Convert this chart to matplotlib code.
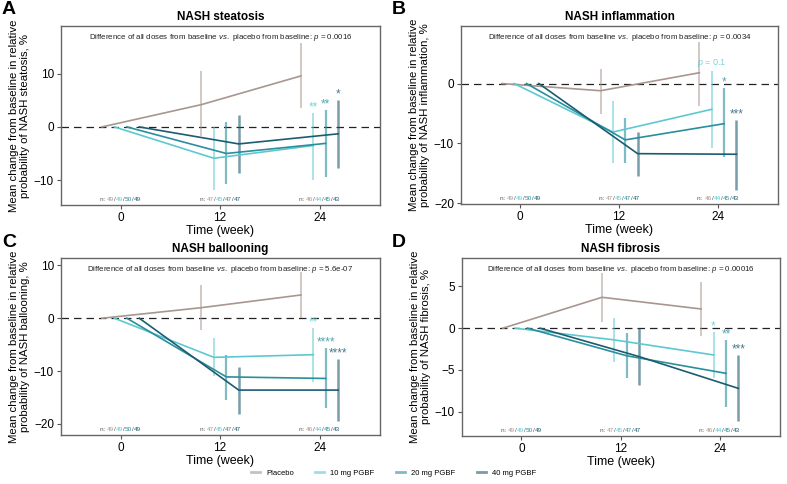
import matplotlib
matplotlib.use("Agg")
import matplotlib.pyplot as plt
from matplotlib.offsetbox import TextArea, HPacker, AnnotationBbox

plt.rcParams['font.family'] = ['Liberation Sans', 'DejaVu Sans']
plt.rcParams['mathtext.fontset'] = 'custom'
plt.rcParams['mathtext.rm'] = 'Liberation Sans'
plt.rcParams['mathtext.it'] = 'Liberation Sans:italic'

# data
weeks = [0, 12, 24]
groups = ['Placebo', '10 mg PGBF', '20 mg PGBF', '40 mg PGBF']
colors = ['#a8968f', '#5cc9d2', '#2a8e9c', '#1c5c70']
n_labels = [[49, 49, 50, 49], [47, 45, 47, 47], [46, 44, 45, 43]]

titles = ['NASH steatosis', 'NASH inflammation', 'NASH ballooning', 'NASH fibrosis']
outcomes = ['steatosis', 'inflammation', 'ballooning', 'fibrosis']
pvals = ['0.0016', '0.0034', '5.6e-07', '0.00016']

# mean change per group at weeks 0, 12, 24
means = {
    'steatosis':    [[0, 4.2, 9.6], [0, -5.9, -3.5], [0, -5.0, -3.1], [0, -3.2, -1.3]],
    'inflammation': [[0, -1.2, 1.8], [0, -8.1, -4.3], [0, -9.4, -6.7], [0, -11.7, -11.8]],
    'ballooning':   [[0, 2.0, 4.4], [0, -7.4, -6.9], [0, -11.1, -11.4], [0, -13.6, -13.6]],
    'fibrosis':     [[0, 3.7, 2.3], [0, -1.4, -3.2], [0, -3.3, -5.4], [0, -3.4, -7.2]],
}
# (low, high) at weeks 12, 24
ci = {
    'steatosis':    [[(-1.8, 10.6), (3.5, 15.8)], [(-11.9, -0.1), (-9.9, 2.6)],
                     [(-10.8, 0.9), (-9.4, 3.2)], [(-8.7, 2.3), (-7.8, 5.1)]],
    'inflammation': [[(-5.0, 2.5), (-3.8, 6.9)], [(-13.2, -2.9), (-10.7, 2.1)],
                     [(-13.2, -5.7), (-12.3, -0.8)], [(-15.4, -8.1), (-17.7, -6.1)]],
    'ballooning':   [[(-2.2, 6.2), (0.0, 8.7)], [(-11.0, -3.8), (-12.1, -1.9)],
                     [(-15.5, -6.9), (-16.9, -5.7)], [(-18.1, -9.2), (-19.4, -7.8)]],
    'fibrosis':     [[(0.7, 6.6), (-0.9, 5.5)], [(-4.0, 1.2), (-6.0, -0.5)],
                     [(-6.0, -0.6), (-9.4, -1.4)], [(-6.8, 0.0), (-11.1, -3.2)]],
}
# significance labels at week 24 for dose groups
stars = {
    'steatosis':    ['**', '**', '*'],
    'inflammation': ['p = 0.1', '*', '***'],
    'ballooning':   ['**', '****', '****'],
    'fibrosis':     ['*', '**', '***'],
}
ylims = {'steatosis': (-14.7, 19.0), 'inflammation': (-20.1, 9.6),
         'ballooning': (-22.1, 11.4), 'fibrosis': (-12.9, 8.4)}
yticks = {'steatosis': [-10, 0, 10], 'inflammation': [-20, -10, 0],
          'ballooning': [-20, -10, 0, 10], 'fibrosis': [-10, -5, 0, 5]}

dodge = [-2.25, -0.75, 0.75, 2.25]
eb_width = [1.2, 1.2, 1.6, 1.8]

fig = plt.figure(figsize=(7.87, 4.84), dpi=100)
W, H = 787, 484
boxes = [(61, 26, 380, 205), (461, 26, 778, 204), (61, 258, 380, 435), (462, 258, 780, 436)]
letters = ['A', 'B', 'C', 'D']
letter_pos = [(2, 1), (392, 1), (2, 234), (392, 234)]

for i, key in enumerate(outcomes):
    x0, y0, x1, y1 = boxes[i]
    ax = fig.add_axes([x0 / W, 1 - y1 / H, (x1 - x0) / W, (y1 - y0) / H])
    ax.axhline(0, color='#222222', lw=0.9, ls=(0, (6, 4)), zorder=1)
    for g in range(4):
        xs = [w + dodge[g] for w in weeks]
        ax.plot(xs, means[key][g], color=colors[g], lw=1.2, zorder=3)
        for k in range(2):
            lo, hi = ci[key][g][k]
            ax.vlines(xs[k + 1], lo, hi, color=colors[g], alpha=0.6,
                      lw=eb_width[g], zorder=2)
        if g > 0:
            hi = ci[key][g][1][1]
            lab = stars[key][g - 1]
            off = 0.012 * (ylims[key][1] - ylims[key][0])
            if lab.startswith('p'):
                ax.text(xs[2], hi + off, r'$\mathit{p}$ = 0.1', color=colors[g],
                        fontsize=6.5, ha='center', va='bottom', alpha=0.8)
            else:
                ax.text(xs[2], hi - off * 0.1, lab, color=colors[g], fontsize=8.5,
                        ha='center', va='bottom', alpha=0.8)

    # n labels
    for w, ns in zip(weeks, n_labels):
        parts = [TextArea('n: ', textprops=dict(color='#555555', fontsize=4.6))]
        for g in range(4):
            parts.append(TextArea(str(ns[g]), textprops=dict(color=colors[g], fontsize=4.6)))
            if g < 3:
                parts.append(TextArea('/', textprops=dict(color='#555555', fontsize=4.6)))
        pack = HPacker(children=parts, pad=0, sep=0)
        ab = AnnotationBbox(pack, (w, 0.015), xycoords=('data', 'axes fraction'),
                            box_alignment=(0.5, 0), frameon=False, pad=0)
        ax.add_artist(ab)

    ax.text(0.5, 0.965, 'Difference of all doses from baseline $\\mathit{vs.}$ placebo from baseline: '
            '$\\mathit{p}$ = ' + pvals[i], transform=ax.transAxes, ha='center', va='top',
            fontsize=5.7, color='#222222')

    ax.set_xlim(-7.2, 31.3)
    ax.set_ylim(*ylims[key])
    ax.set_xticks(weeks)
    ax.set_yticks(yticks[key])
    ax.tick_params(labelsize=8.5, length=3, color='#555555', width=0.8, pad=2)
    for s in ax.spines.values():
        s.set_color('#666666')
        s.set_linewidth(1.0)
    ax.set_xlabel('Time (week)', fontsize=9, labelpad=1)
    ax.set_ylabel('Mean change from baseline in relative\nprobability of NASH ' + key + ', %',
                  fontsize=8.2, labelpad=3, linespacing=1.05)
    ax.set_title(titles[i], fontsize=8.5, fontweight='bold', pad=4)

    lx, ly = letter_pos[i]
    fig.text(lx / W, 1 - ly / H, letters[i], fontsize=14, fontweight='bold', va='top', ha='left')

handles = [plt.Line2D([], [], color=c, lw=2, alpha=0.6) for c in colors]
fig.legend(handles, groups, loc='lower center', ncol=4, frameon=False, fontsize=5.5,
           handlelength=1.2, columnspacing=2.8, bbox_to_anchor=(0.5, 0.0), handletextpad=0.8)

fig.savefig('out.png', dpi=100)
